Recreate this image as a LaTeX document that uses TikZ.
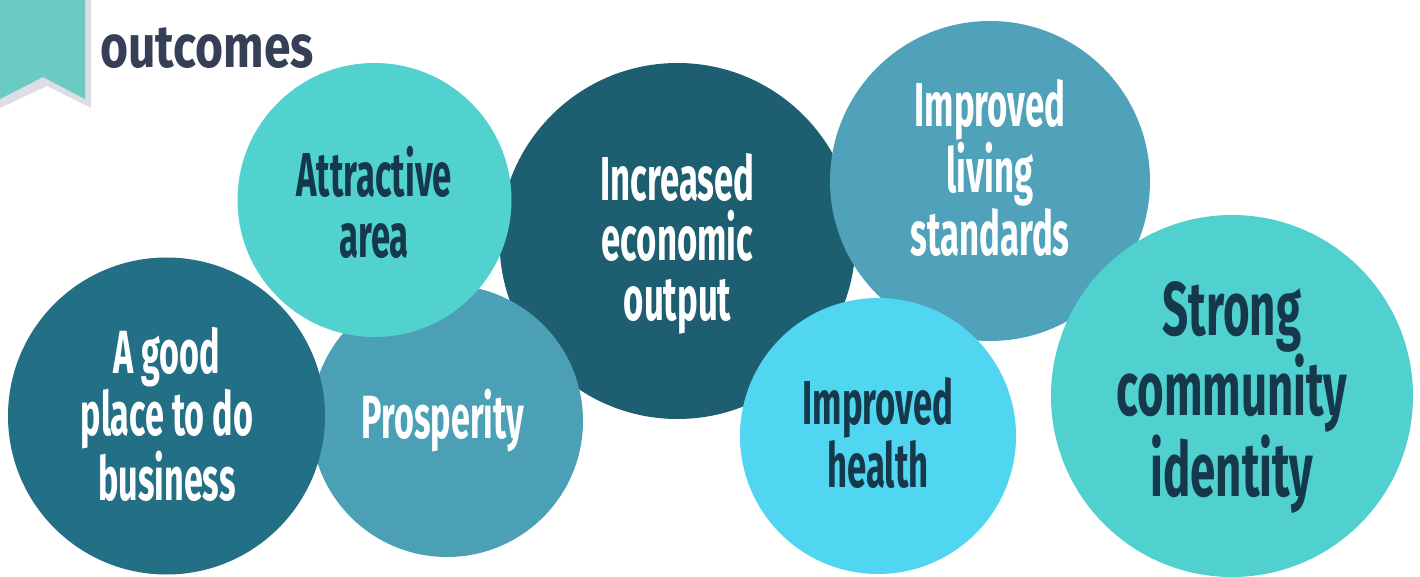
\documentclass[tikz,border=0pt]{standalone}
\usepackage{fontspec}
\newfontfamily\cfont{Fira Sans}[FakeStretch=0.56]
\newfontfamily\cfontw{Fira Sans}[FakeStretch=0.6]
\newfontfamily\tfont{Fira Sans}[FakeStretch=0.8]
\definecolor{cA}{HTML}{236F85}
\definecolor{cPros}{HTML}{4BA0B6}
\definecolor{cAttr}{HTML}{52D2CF}
\definecolor{cInc}{HTML}{1D5F70}
\definecolor{cLiv}{HTML}{4FA2B9}
\definecolor{cHea}{HTML}{50D6F0}
\definecolor{cStr}{HTML}{50D1CF}
\definecolor{darktxt}{HTML}{15384A}
\definecolor{titletxt}{HTML}{353F55}
\definecolor{ribbon}{HTML}{6BCBC3}
\definecolor{shadow}{HTML}{DCDEE5}
\tikzset{
  bub/.style={circle, inner sep=0pt, align=center, font=\cfont\bfseries\fontsize{30.5}{29}\selectfont},
  lbl/.style={inner sep=0pt, align=center},
  lighttxt/.style={text=white},
  darkt/.style={text=darktxt}
}
\begin{document}
\begin{tikzpicture}[x=0.5pt,y=-0.5pt]
\useasboundingbox (0,0) rectangle (1420,577);
\fill[white] (0,0) rectangle (1420,577);
% ribbon
\fill[shadow] (0,0) -- (91,0) -- (91,108) -- (47,86) -- (0,108) -- cycle;
\fill[ribbon] (0,0) -- (85,0) -- (85,99) -- (43,77) -- (0,99) -- cycle;
\node[text=titletxt, font=\tfont\bfseries\fontsize{30}{32}\selectfont, anchor=base west, inner sep=0pt] (title) at (100,68) {outcomes};
% circles
\node[bub, fill=cInc, minimum size=178pt] (inc) at (677.5,241) {};
\node[lbl, lighttxt, font=\cfont\bfseries\fontsize{31}{30}\selectfont] (inct) at (677.5,244) {Increased\\economic\\output};
\node[bub, fill=cLiv, minimum size=160pt] (liv) at (990,181) {};
\node[lbl, lighttxt, font=\cfont\bfseries\fontsize{31}{30}\selectfont] (livt) at (990,168) {Improved\\living\\standards};
\node[bub, fill=cHea, minimum size=138pt] (hea) at (878,436) {};
\node[lbl, darkt, font=\cfont\bfseries\fontsize{31}{29}\selectfont] (heat) at (878,433) {Improved\\health};
\node[bub, fill=cStr, minimum size=181pt] (str) at (1232,396) {};
\node[lbl, darkt, font=\cfontw\bfseries\fontsize{38}{36.5}\selectfont] (strt) at (1232,397) {Strong\\community\\identity};
\node[bub, fill=cPros, minimum size=136pt] (pros) at (447,421) {};
\node[lbl, lighttxt, font=\cfont\bfseries\fontsize{30.5}{30}\selectfont] (prost) at (443,421) {Prosperity};
\node[bub, fill=cAttr, minimum size=137pt] (attr) at (374.5,200) {};
\node[lbl, darkt, font=\cfont\bfseries\fontsize{31}{30.5}\selectfont] (attrt) at (374,202) {Attractive\\area};
\node[bub, fill=cA, minimum size=158.5pt] (a) at (166.5,416) {};
\node[lbl, lighttxt, font=\cfont\bfseries\fontsize{30.5}{28.5}\selectfont] (at) at (167,414) {A good\\place to do\\business};
\end{tikzpicture}
\end{document}
